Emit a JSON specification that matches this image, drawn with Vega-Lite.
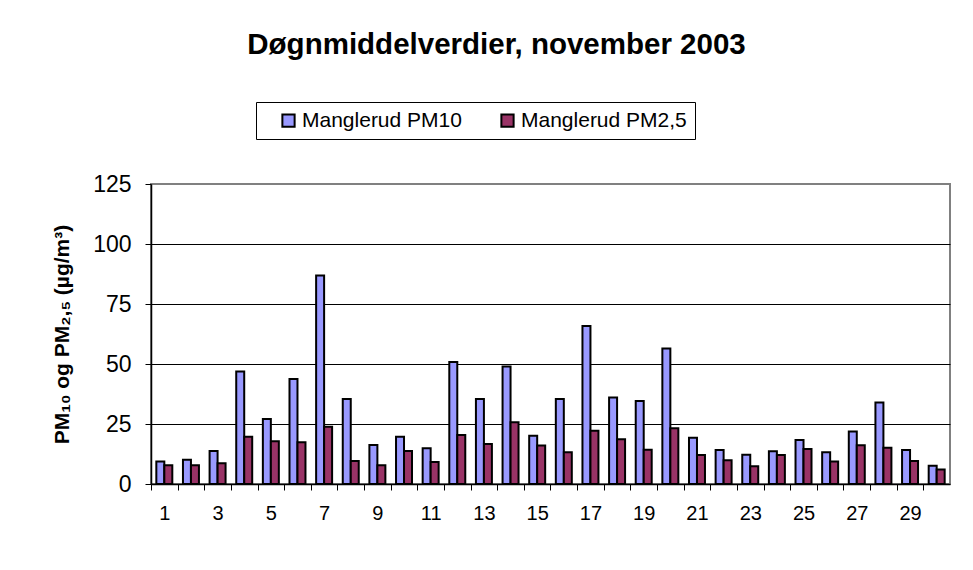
{
  "$schema": "https://vega.github.io/schema/vega-lite/v6.json",
  "autosize": {"type": "none"},
  "width": 799,
  "height": 300,
  "padding": {"left": 151, "top": 184, "right": 23, "bottom": 86},
  "background": "white",
  "title": {
    "text": "Døgnmiddelverdier, november 2003",
    "font": "Liberation Sans",
    "fontSize": 29.5,
    "fontWeight": "bold",
    "color": "black",
    "anchor": "middle",
    "frame": "group",
    "dx": -54,
    "offset": 41
  },
  "data": {
    "values": [
      {"dag": 1, "Manglerud PM10": 9.4, "Manglerud PM2,5": 7.8},
      {"dag": 2, "Manglerud PM10": 10.1, "Manglerud PM2,5": 7.8},
      {"dag": 3, "Manglerud PM10": 13.8, "Manglerud PM2,5": 8.6},
      {"dag": 4, "Manglerud PM10": 46.9, "Manglerud PM2,5": 19.7},
      {"dag": 5, "Manglerud PM10": 27.1, "Manglerud PM2,5": 17.8},
      {"dag": 6, "Manglerud PM10": 43.8, "Manglerud PM2,5": 17.4},
      {"dag": 7, "Manglerud PM10": 86.9, "Manglerud PM2,5": 23.9},
      {"dag": 8, "Manglerud PM10": 35.4, "Manglerud PM2,5": 9.6},
      {"dag": 9, "Manglerud PM10": 16.3, "Manglerud PM2,5": 7.8},
      {"dag": 10, "Manglerud PM10": 19.7, "Manglerud PM2,5": 13.8},
      {"dag": 11, "Manglerud PM10": 14.9, "Manglerud PM2,5": 9.2},
      {"dag": 12, "Manglerud PM10": 50.8, "Manglerud PM2,5": 20.4},
      {"dag": 13, "Manglerud PM10": 35.4, "Manglerud PM2,5": 16.7},
      {"dag": 14, "Manglerud PM10": 49.0, "Manglerud PM2,5": 25.7},
      {"dag": 15, "Manglerud PM10": 20.1, "Manglerud PM2,5": 16.0},
      {"dag": 16, "Manglerud PM10": 35.4, "Manglerud PM2,5": 13.2},
      {"dag": 17, "Manglerud PM10": 65.8, "Manglerud PM2,5": 22.2},
      {"dag": 18, "Manglerud PM10": 36.0, "Manglerud PM2,5": 18.6},
      {"dag": 19, "Manglerud PM10": 34.6, "Manglerud PM2,5": 14.3},
      {"dag": 20, "Manglerud PM10": 56.5, "Manglerud PM2,5": 23.2},
      {"dag": 21, "Manglerud PM10": 19.3, "Manglerud PM2,5": 12.1},
      {"dag": 22, "Manglerud PM10": 14.2, "Manglerud PM2,5": 9.9},
      {"dag": 23, "Manglerud PM10": 12.2, "Manglerud PM2,5": 7.4},
      {"dag": 24, "Manglerud PM10": 13.6, "Manglerud PM2,5": 12.1},
      {"dag": 25, "Manglerud PM10": 18.3, "Manglerud PM2,5": 14.6},
      {"dag": 26, "Manglerud PM10": 13.2, "Manglerud PM2,5": 9.4},
      {"dag": 27, "Manglerud PM10": 21.9, "Manglerud PM2,5": 16.1},
      {"dag": 28, "Manglerud PM10": 34.0, "Manglerud PM2,5": 15.1},
      {"dag": 29, "Manglerud PM10": 14.2, "Manglerud PM2,5": 9.6},
      {"dag": 30, "Manglerud PM10": 7.6, "Manglerud PM2,5": 6.0}
    ]
  },
  "transform": [
    {"fold": ["Manglerud PM10", "Manglerud PM2,5"], "as": ["serie", "verdi"]}
  ],
  "mark": {"type": "bar", "stroke": "black", "strokeWidth": 2},
  "encoding": {
    "x": {
      "field": "dag",
      "type": "ordinal",
      "scale": {"paddingInner": 0.4, "paddingOuter": 0.2},
      "axis": {
        "title": null,
        "labelAngle": 0,
        "labelFont": "Liberation Sans",
        "labelFontSize": 20,
        "labelColor": "black",
        "labelPadding": 13,
        "labelOverlap": false,
        "labelExpr": "datum.value % 2 == 1 ? datum.label : ''",
        "bandPosition": 0.5,
        "tickOffset": -13.32,
        "labelOffset": 13.32,
        "tickColor": "black",
        "tickSize": 6,
        "tickWidth": 1,
        "domainColor": "black",
        "domainWidth": 1.5,
        "grid": false
      }
    },
    "xOffset": {
      "field": "serie",
      "type": "nominal",
      "scale": {"paddingInner": 0, "paddingOuter": 0}
    },
    "y": {
      "field": "verdi",
      "type": "quantitative",
      "scale": {"domain": [0, 125], "nice": false},
      "axis": {
        "values": [0, 25, 50, 75, 100, 125],
        "title": "PM₁₀ og PM₂,₅ (µg/m³)",
        "titleFont": "Liberation Sans",
        "titleFontSize": 21,
        "titleFontWeight": "bold",
        "titleColor": "black",
        "titlePadding": 20,
        "labelFont": "Liberation Sans",
        "labelFontSize": 23,
        "labelColor": "black",
        "labelPadding": 14,
        "tickColor": "black",
        "tickSize": 6,
        "domainColor": "black",
        "domainWidth": 1.5,
        "grid": true,
        "gridColor": "black",
        "gridWidth": 1,
        "gridOpacity": {"condition": {"test": "datum.value == 125 || datum.value == 0", "value": 0}, "value": 1}
      }
    },
    "color": {
      "field": "serie",
      "type": "nominal",
      "scale": {"domain": ["Manglerud PM10", "Manglerud PM2,5"], "range": ["#9999FF", "#993366"]},
      "legend": {
        "title": null,
        "orient": "none",
        "legendX": 105,
        "legendY": -82,
        "direction": "horizontal",
        "columns": 2,
        "strokeColor": "black",
        "fillColor": "white",
        "padding": 8,
        "symbolType": "square",
        "symbolSize": 150,
        "symbolStrokeColor": "black",
        "symbolStrokeWidth": 2,
        "symbolOffset": 14,
        "labelOffset": 3,
        "labelFont": "Liberation Sans",
        "labelFontSize": 21,
        "labelColor": "black",
        "labelLimit": 400,
        "columnPadding": 21
      }
    }
  },
  "config": {
    "view": {"stroke": "#808080", "strokeWidth": 2}
  }
}
